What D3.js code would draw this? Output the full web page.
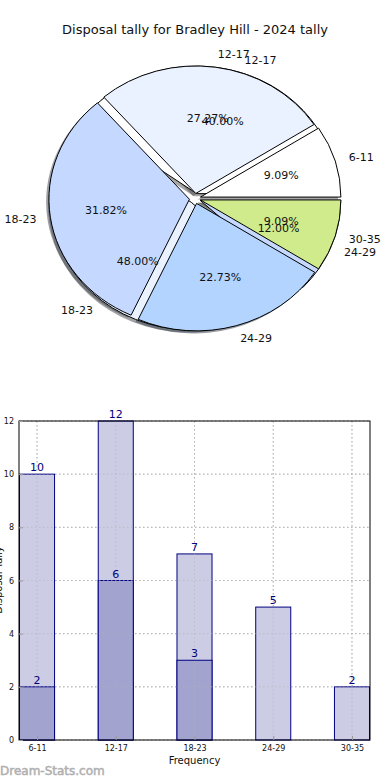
<!DOCTYPE html>
<html>
<head>
<meta charset="utf-8">
<script src="https://cdn.jsdelivr.net/npm/d3@7/dist/d3.min.js"></script>
<style>
html,body{margin:0;padding:0;background:#fff;}
svg{display:block;font-family:"DejaVu Sans",sans-serif;}
</style>
</head>
<body>
<svg id="chart" width="390" height="780"></svg>
<script>
const title = "Disposal tally for Bradley Hill - 2024 tally";
const categories = ["6-11", "12-17", "18-23", "24-29", "30-35"];
const pieValuesMain = [2, 6, 7, 5, 2];
const pieLabelsBack = ["12-17", "18-23", "24-29"];
const pieValuesBack = [10, 12, 3];
const barTotals = [10, 12, 7, 5, 2];
const barSubset = [2, 6, 3];
const yTicks = [0, 2, 4, 6, 8, 10, 12];
const pieColors = ["#ffffff", "#ebf2ff", "#c5d8ff", "#b3d4ff", "#cfeb8b"];

const svg = d3.select("#chart");

svg.append("text").attr("x", 195).attr("y", 34).attr("text-anchor", "middle")
  .attr("font-size", 13).attr("fill", "#111").text(title);

// ---------- PIE ----------
const cx = 195, cy = 198.5, rx = 140.5, ry = 127.5, R = 100;
const explode = 0.04;
const pieG = svg.append("g").attr("transform", `translate(${cx},${cy}) scale(${rx / R},${ry / R})`);
const pieGen = d3.pie().sort(null).startAngle(Math.PI / 2).endAngle(Math.PI / 2 - 2 * Math.PI);
const arc = d3.arc().innerRadius(0).outerRadius(R);

function prep(values, labels) {
  return pieGen(values).map((d, i) => {
    const mid = (d.startAngle + d.endAngle) / 2;
    return { ...d, label: labels[i], color: pieColors[i], mid,
      ox: Math.sin(mid) * explode * R, oy: -Math.cos(mid) * explode * R,
      pct: d.value / d3.sum(values) * 100 };
  });
}
const back = prep(pieValuesBack, pieLabelsBack);
const main = prep(pieValuesMain, categories);

function shade(c) { const r = d3.rgb(c); return d3.rgb(r.r * 0.3, r.g * 0.3, r.b * 0.3).toString(); }

[back, main].forEach(arr => {
  pieG.selectAll(null).data(arr).enter().append("path")
    .attr("d", arc)
    .attr("transform", d => `translate(${d.ox - 2},${d.oy + 2})`)
    .attr("fill", d => shade(d.color)).attr("fill-opacity", 0.5);
});
[back, main].forEach(arr => {
  pieG.selectAll(null).data(arr).enter().append("path")
    .attr("d", arc)
    .attr("transform", d => `translate(${d.ox},${d.oy})`)
    .attr("fill", d => d.color).attr("stroke", "#000")
    .attr("stroke-width", 1).attr("vector-effect", "non-scaling-stroke")
    .attr("stroke-linejoin", "round");
});
[back, main].forEach(arr => {
  arr.forEach(d => {
    const sx = Math.sin(d.mid), sy = -Math.cos(d.mid);
    const px = cx + (0.6 + explode) * rx * sx, py = cy + (0.6 + explode) * ry * sy;
    svg.append("text").attr("x", px).attr("y", py).attr("dy", "0.35em")
      .attr("text-anchor", "middle").attr("font-size", 11).attr("fill", "#111")
      .text(d.pct.toFixed(2) + "%");
    const lx = cx + (1.1 + explode) * rx * sx, ly = cy + (1.1 + explode) * ry * sy;
    svg.append("text").attr("x", lx).attr("y", ly).attr("dy", "0.35em")
      .attr("text-anchor", sx > 0 ? "start" : "end").attr("font-size", 11).attr("fill", "#111")
      .text(d.label);
  });
});

// ---------- BARS ----------
const bL = 19, bR = 370, bT = 421, bB = 740;
const x = d3.scaleLinear().domain([-0.229, categories.length - 1 + 0.229]).range([bL, bR]);
const y = d3.scaleLinear().domain([0, 12]).range([bB, bT]);
const bw = x(0.445) - x(0);

const barG = svg.append("g");
barG.selectAll(null).data(yTicks).enter().append("line")
  .attr("x1", bL).attr("x2", bR).attr("y1", d => y(d)).attr("y2", d => y(d))
  .attr("stroke", "#b8b8b8").attr("stroke-dasharray", "1.5,2.5").attr("stroke-width", 1);
barG.selectAll(null).data(categories).enter().append("line")
  .attr("x1", (d, i) => x(i)).attr("x2", (d, i) => x(i)).attr("y1", bT).attr("y2", bB)
  .attr("stroke", "#b8b8b8").attr("stroke-dasharray", "1.5,2.5").attr("stroke-width", 1);

barG.selectAll(null).data(barTotals).enter().append("rect")
  .attr("x", (d, i) => x(i) - bw / 2).attr("width", bw)
  .attr("y", d => y(d)).attr("height", d => y(0) - y(d))
  .attr("fill", "#ccccE4").attr("stroke", "#000080").attr("stroke-width", 1);
barG.selectAll(null).data(barSubset).enter().append("rect")
  .attr("x", (d, i) => x(i) - bw / 2).attr("width", bw)
  .attr("y", d => y(d)).attr("height", d => y(0) - y(d))
  .attr("fill", "#a3a3cf").attr("stroke", "#000080").attr("stroke-width", 1);

barG.selectAll(null).data(yTicks.slice(1, -1)).enter().append("line")
  .attr("x1", bL).attr("x2", bR).attr("y1", d => y(d)).attr("y2", d => y(d))
  .attr("stroke", "#b0b0b0").attr("stroke-opacity", 0.6).attr("stroke-dasharray", "1.5,2.5");
barG.selectAll(null).data(categories).enter().append("line")
  .attr("x1", (d, i) => x(i)).attr("x2", (d, i) => x(i)).attr("y1", bT).attr("y2", bB)
  .attr("stroke", "#b0b0b0").attr("stroke-opacity", 0.6).attr("stroke-dasharray", "1.5,2.5");

barG.selectAll(null).data(barTotals).enter().append("text")
  .attr("x", (d, i) => x(i)).attr("y", d => y(d) - 3).attr("text-anchor", "middle")
  .attr("font-size", 11).attr("fill", "#000080").text(d => d);
barG.selectAll(null).data(barSubset).enter().append("text")
  .attr("x", (d, i) => x(i)).attr("y", d => y(d) - 3).attr("text-anchor", "middle")
  .attr("font-size", 11).attr("fill", "#000080").text(d => d);

barG.append("rect").attr("x", bL).attr("y", bT).attr("width", bR - bL).attr("height", bB - bT)
  .attr("fill", "none").attr("stroke", "#000").attr("stroke-width", 1);

const yAxis = d3.axisLeft(y).tickValues(yTicks).tickSize(-4).tickPadding(5);
const ya = svg.append("g").attr("transform", `translate(${bL},0)`).call(yAxis);
ya.select(".domain").remove();
ya.selectAll("text").attr("font-size", 8).attr("font-family", "DejaVu Sans").attr("fill", "#111");
ya.selectAll("line").attr("stroke", "#999");

const xAxis = d3.axisBottom(x).tickValues(d3.range(categories.length)).tickFormat(i => categories[i]).tickSize(-4).tickPadding(5);
const xa = svg.append("g").attr("transform", `translate(0,${bB})`).call(xAxis);
xa.select(".domain").remove();
xa.selectAll("text").attr("font-size", 8).attr("font-family", "DejaVu Sans").attr("fill", "#111");
xa.selectAll("line").attr("stroke", "#999");

svg.append("text").attr("x", (bL + bR) / 2).attr("y", 764).attr("text-anchor", "middle")
  .attr("font-size", 10).attr("fill", "#111").text("Frequency");
svg.append("text").attr("transform", "translate(1.5,580) rotate(-90)").attr("text-anchor", "middle")
  .attr("font-size", 10).attr("fill", "#111").text("Disposal Tally");

svg.append("text").attr("x", 0).attr("y", 775).attr("font-size", 12)
  .attr("fill", "#b0b0b0").attr("stroke", "#b0b0b0").attr("stroke-width", 0.5).text("Dream-Stats.com");
</script>
</body>
</html>
